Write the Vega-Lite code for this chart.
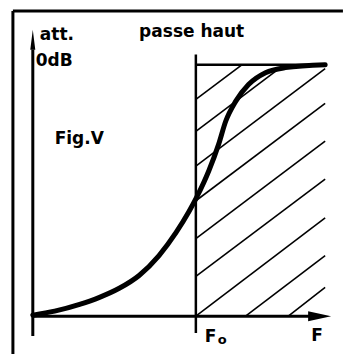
{
  "$schema": "https://vega.github.io/schema/vega-lite/v6.json",
  "width": 345,
  "height": 356,
  "autosize": {"type": "fit", "contains": "padding"},
  "padding": 0,
  "background": "white",
  "config": {"view": {"stroke": null}},
  "datasets": {
    "frame": [
      {"f": -12.2, "lvl": 121.3, "f2": 190.2, "lvl2": 121.3},
      {"f": -12.2, "lvl": 121.3, "f2": -12.2, "lvl2": -15.0}
    ],
    "axes": [
      {"f": 0, "lvl": -7.9, "f2": 0, "lvl2": 106.0},
      {"f": 0, "lvl": 0, "f2": 170.0, "lvl2": 0}
    ],
    "guides": [
      {"f": 100, "lvl": 104.0, "f2": 100, "lvl2": -6.7},
      {"f": 100, "lvl": 100, "f2": 179.3, "lvl2": 100}
    ],
    "hatch": [
      {"f": 100, "lvl": 86.2, "f2": 128.4, "lvl2": 100},
      {"f": 100, "lvl": 73.5, "f2": 154.3, "lvl2": 100},
      {"f": 100, "lvl": 59.7, "f2": 179.3, "lvl2": 98.4},
      {"f": 100, "lvl": 45.9, "f2": 179.3, "lvl2": 84.6},
      {"f": 100, "lvl": 30.8, "f2": 179.3, "lvl2": 69.6},
      {"f": 100, "lvl": 15.8, "f2": 179.3, "lvl2": 54.5},
      {"f": 100, "lvl": 0.0, "f2": 179.3, "lvl2": 39.1},
      {"f": 130.5, "lvl": 0.0, "f2": 179.3, "lvl2": 24.1},
      {"f": 156.7, "lvl": 0.0, "f2": 179.3, "lvl2": 11.5}
    ],
    "response": [
      {"i": 0, "f": 0.0, "lvl": 0.4},
      {"i": 1, "f": 13.4, "lvl": 2.0},
      {"i": 2, "f": 28.7, "lvl": 4.7},
      {"i": 3, "f": 40.9, "lvl": 7.5},
      {"i": 4, "f": 53.0, "lvl": 11.1},
      {"i": 5, "f": 65.2, "lvl": 16.2},
      {"i": 6, "f": 77.4, "lvl": 24.1},
      {"i": 7, "f": 87.8, "lvl": 33.2},
      {"i": 8, "f": 95.7, "lvl": 41.5},
      {"i": 9, "f": 100.6, "lvl": 47.4},
      {"i": 10, "f": 107.9, "lvl": 57.7},
      {"i": 11, "f": 114.0, "lvl": 68.4},
      {"i": 12, "f": 118.3, "lvl": 77.5},
      {"i": 13, "f": 124.4, "lvl": 85.4},
      {"i": 14, "f": 132.3, "lvl": 92.1},
      {"i": 15, "f": 142.7, "lvl": 96.8},
      {"i": 16, "f": 154.9, "lvl": 98.8},
      {"i": 17, "f": 179.3, "lvl": 100.0}
    ],
    "arrowY": [{"f": 0, "lvl": 109.9}],
    "arrowX": [{"f": 175.9, "lvl": 0}],
    "labels": [
      {"f": 4.3, "lvl": 109.9, "text": "att."},
      {"f": 1.8, "lvl": 99.6, "text": "0dB"},
      {"f": 65.2, "lvl": 111.1, "text": "passe haut"},
      {"f": 13.4, "lvl": 68.4, "text": "Fig.Ⅴ"},
      {"f": 105.5, "lvl": -10.3, "text": "F"},
      {"f": 170.7, "lvl": -9.9, "text": "F"}
    ],
    "subscript": [
      {"f": 113.4, "lvl": -11.1, "text": "o"}
    ]
  },
  "encoding": {
    "x": {"field": "f", "type": "quantitative", "axis": null,
          "scale": {"domain": [-20.12, 190.24], "nice": false, "zero": false}},
    "y": {"field": "lvl", "type": "quantitative", "axis": null,
          "scale": {"domain": [-15.02, 125.69], "nice": false, "zero": false}}
  },
  "layer": [
    {
      "data": {"name": "frame"},
      "mark": {"type": "rule", "color": "black", "strokeWidth": 3},
      "encoding": {"x2": {"field": "f2"}, "y2": {"field": "lvl2"}}
    },
    {
      "data": {"name": "hatch"},
      "mark": {"type": "rule", "color": "black", "strokeWidth": 1.6},
      "encoding": {"x2": {"field": "f2"}, "y2": {"field": "lvl2"}}
    },
    {
      "data": {"name": "guides"},
      "mark": {"type": "rule", "color": "black", "strokeWidth": 2.5},
      "encoding": {"x2": {"field": "f2"}, "y2": {"field": "lvl2"}}
    },
    {
      "data": {"name": "axes"},
      "mark": {"type": "rule", "color": "black", "strokeWidth": 3},
      "encoding": {"x2": {"field": "f2"}, "y2": {"field": "lvl2"}}
    },
    {
      "data": {"name": "arrowY"},
      "mark": {"type": "point", "filled": true, "color": "black", "opacity": 1,
               "size": 400, "shape": "M0,-1L0.25,1L-0.25,1Z"}
    },
    {
      "data": {"name": "arrowX"},
      "mark": {"type": "point", "filled": true, "color": "black", "opacity": 1,
               "size": 529, "shape": "M1,0L-1,-0.43L-1,0.43Z"}
    },
    {
      "data": {"name": "response"},
      "mark": {"type": "line", "color": "black", "strokeWidth": 5,
               "interpolate": "monotone", "strokeCap": "round"},
      "encoding": {"order": {"field": "i", "type": "quantitative"}}
    },
    {
      "data": {"name": "labels"},
      "mark": {"type": "text", "align": "left", "baseline": "alphabetic",
               "font": "DejaVu Sans", "fontWeight": "bold", "fontSize": 17, "color": "black"},
      "encoding": {"text": {"field": "text"}}
    },
    {
      "data": {"name": "subscript"},
      "mark": {"type": "text", "align": "left", "baseline": "alphabetic",
               "font": "DejaVu Sans", "fontWeight": "bold", "fontSize": 13, "color": "black"},
      "encoding": {"text": {"field": "text"}}
    }
  ]
}
